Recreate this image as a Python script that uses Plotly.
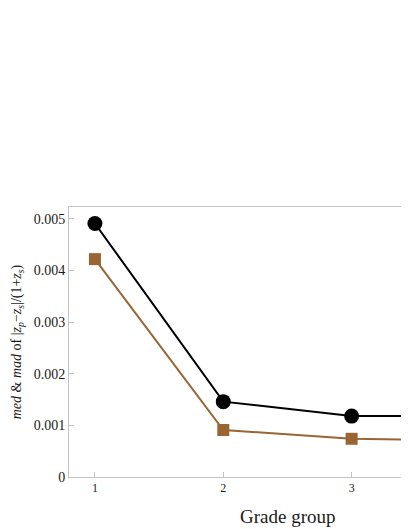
import plotly.graph_objects as go

# datos
grupos = [1, 2, 3, 4]
med = [0.00491, 0.00146, 0.00118, 0.00119]
mad = [0.00422, 0.00091, 0.00074, 0.00070]

y_ticks = [0, 0.001, 0.002, 0.003, 0.004, 0.005]
y_labels = ["0", "0.001", "0.002", "0.003", "0.004", "0.005"]
x_ticks = [1, 2, 3]

negro = "#000000"
marron = "#996633"
gris = "#c4c4c4"
texto = "#1a1a1a"
fuente = "Liberation Serif"

fig = go.Figure()

fig.add_trace(go.Scatter(
    x=grupos, y=mad,
    mode="lines+markers",
    line=dict(color=marron, width=2),
    marker=dict(symbol="square", size=12, color=marron),
    showlegend=False
))

fig.add_trace(go.Scatter(
    x=grupos, y=med,
    mode="lines+markers",
    line=dict(color=negro, width=2),
    marker=dict(symbol="circle", size=15, color=negro),
    showlegend=False
))

# titulo del eje x centrado en el grafico completo (que queda cortado a la derecha)
fig.add_annotation(
    text="Grade group",
    xref="paper", yref="paper",
    x=0.643, y=0, yshift=-27,
    xanchor="center", yanchor="top",
    showarrow=False,
    font=dict(size=19, family=fuente, color=texto)
)

fig.update_layout(
    width=401,
    height=521,
    margin=dict(l=61, r=0, t=199, b=52),
    paper_bgcolor="white",
    plot_bgcolor="white",
    font=dict(family=fuente, color=texto),
    xaxis=dict(
        range=[0.798, 3.447],
        tickvals=x_ticks,
        ticks="inside",
        ticklen=5,
        tickcolor=gris,
        tickfont=dict(size=12, family=fuente, color=texto),
        showline=True,
        linecolor=gris,
        linewidth=1,
        mirror=True,
        showgrid=False,
        zeroline=False,
    ),
    yaxis=dict(
        range=[0, 0.00523],
        tickvals=y_ticks,
        ticktext=y_labels,
        ticks="inside",
        ticklen=5,
        tickcolor=gris,
        tickfont=dict(size=14, family=fuente, color=texto),
        showline=True,
        linecolor=gris,
        linewidth=1,
        showgrid=False,
        zeroline=False,
        title=dict(
            text="<i>med</i> &amp; <i>mad</i> of |<i>z</i><sub><i>p</i></sub>\u2212<i>z</i><sub><i>s</i></sub>|/(1+<i>z</i><sub><i>s</i></sub>)",
            font=dict(size=14, family=fuente, color=texto),
            standoff=8,
        ),
    ),
)

fig.write_html("out.html")
